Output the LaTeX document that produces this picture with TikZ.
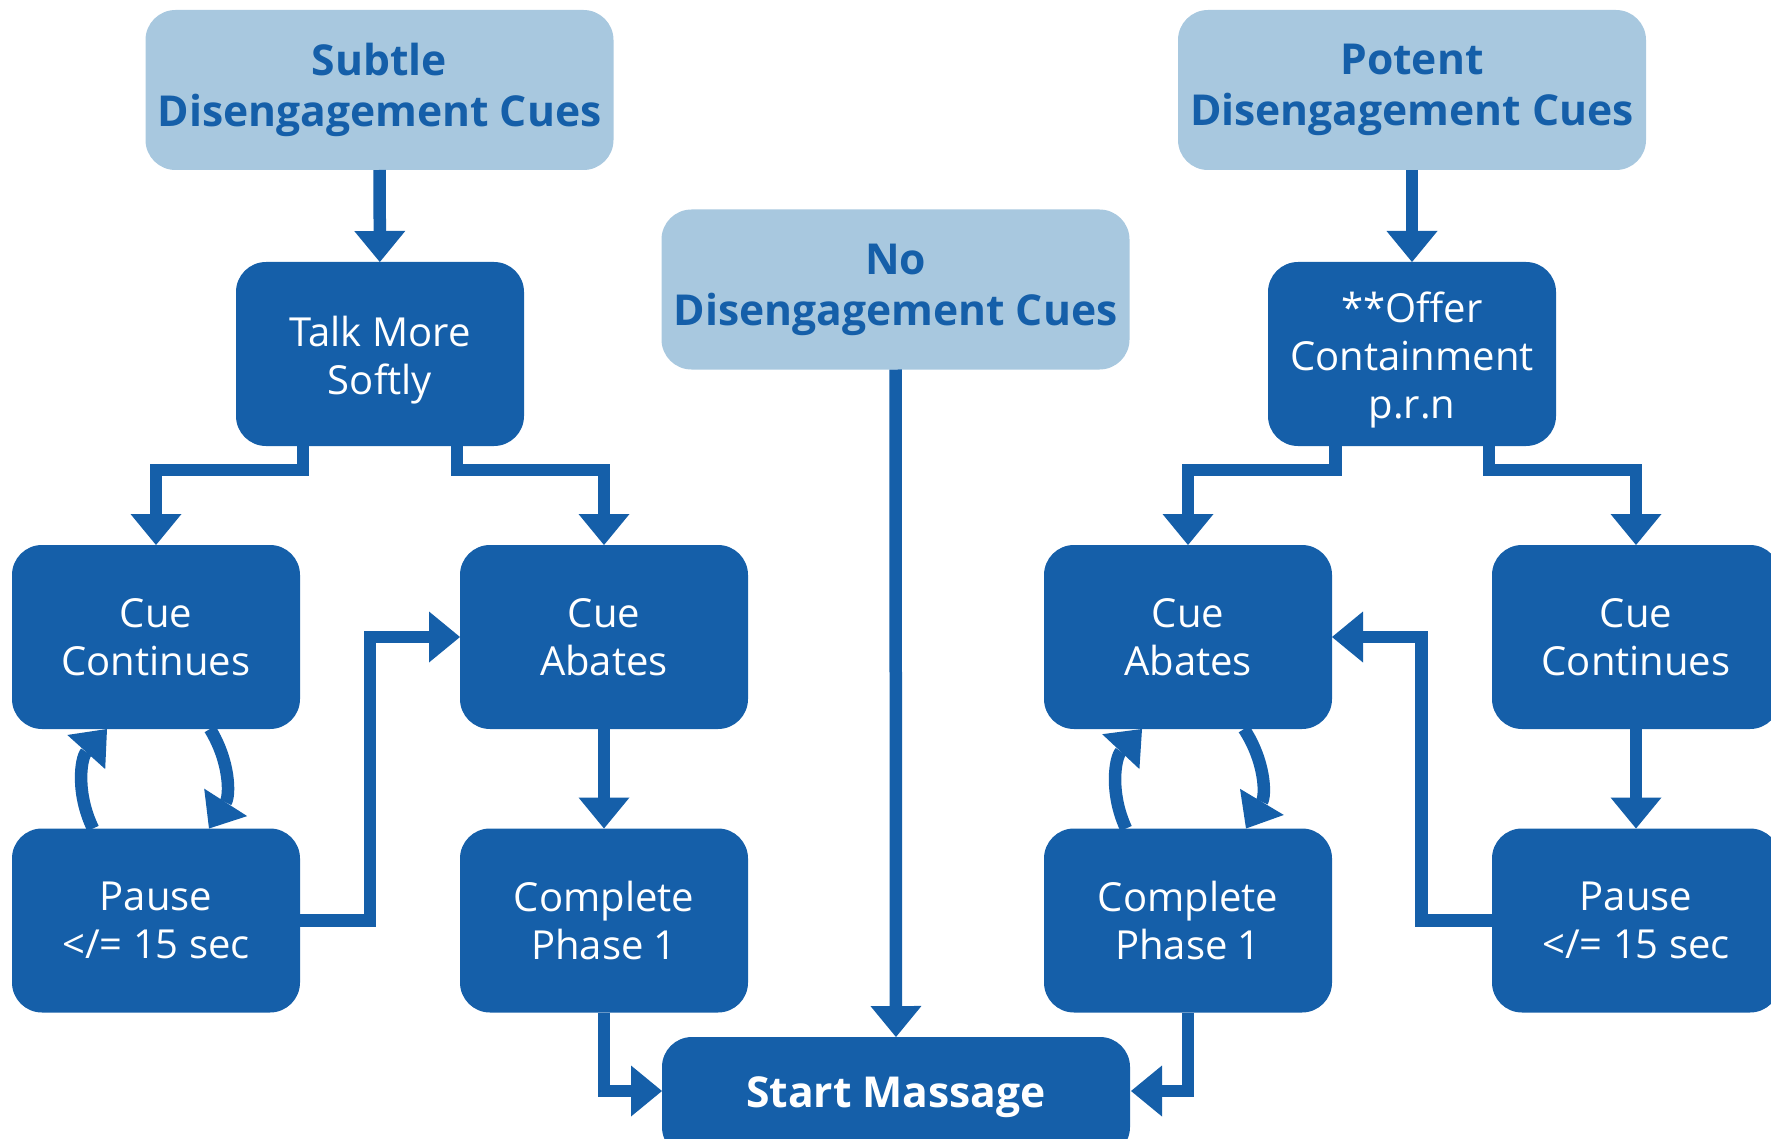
\documentclass[tikz,border=0pt]{standalone}
\usepackage{fontspec}
\setmainfont{Open Sans}
\usetikzlibrary{arrows.meta}
\definecolor{lightblue}{HTML}{A8C8DF}
\definecolor{darkblue}{HTML}{155FA9}
\begin{document}
\begin{tikzpicture}[x=0.5pt,y=-0.5pt,
  lbox/.style={fill=lightblue, rounded corners=15pt, text=darkblue,
    font=\fontsize{21.3}{25.5}\selectfont\bfseries, align=center,
    minimum width=234pt, minimum height=80pt, inner sep=0pt, outer sep=0pt},
  dbox/.style={fill=darkblue, rounded corners=15pt, text=white,
    font=\fontsize{20}{24}\selectfont, align=center,
    minimum width=144pt, minimum height=92pt, inner sep=0pt, outer sep=0pt},
  dtext/.style={text=white, font=\fontsize{20}{24}\selectfont, align=center,
    inner sep=0pt, outer sep=0pt},
  conn/.style={draw=darkblue, line width=6.25pt, line join=miter,
    -{Triangle[width=25.5pt 0 0, length=15.5pt 0 0, line width=0pt 0 0]}}]
\useasboundingbox (0,0) rectangle (1771,1139);
\clip (0,0) rectangle (1771,1139);
% top level
\node[lbox] (subtle) at (379.5,90) {Subtle\\Disengagement Cues};
\node[lbox] (potent) at (1412,90) {Potent\\Disengagement Cues};
\node[lbox] (nocue) at (895.5,289.5) {No\\Disengagement Cues};
% second level
\node[dbox] (talk) at (380,354) {};
\node[dtext] (talkT) at (380,360) {Talk More\\Softly};
\node[dbox] (offer) at (1412,354) {};
\node[dtext] (offerT) at (1412,360) {**Offer\\Containment\\p.r.n};
% third level
\node[dbox] (ccL) at (156,637) {Cue\\Continues};
\node[dbox] (caL) at (604,637) {Cue\\Abates};
\node[dbox] (caR) at (1188,637) {Cue\\Abates};
\node[dbox] (ccR) at (1636,637) {Cue\\Continues};
% fourth level
\node[dbox] (pauseL) at (156,920.5) {Pause\\</= 15 sec};
\node[dbox] (cpL) at (604,920.5) {Complete\\Phase 1};
\node[dbox] (cpR) at (1188,920.5) {Complete\\Phase 1};
\node[dbox] (pauseR) at (1636,920.5) {Pause\\</= 15 sec};
% start
\node[dbox, minimum width=234pt, minimum height=60pt,
  font=\fontsize{21.3}{25.5}\selectfont\bfseries] (start) at (896,1097) {Start Massage};
% bend coordinates
\coordinate (b1) at (303,470);
\coordinate (b2) at (457,470);
\coordinate (b3) at (1335.5,470);
\coordinate (b4) at (1489,470);
\coordinate (v1) at (370,780);
\coordinate (v2) at (1421.5,780);
\coordinate (sl) at (662,1091);
\coordinate (sr) at (1131,1091);
% connectors
\draw[conn] (subtle) -- (talk);
\draw[conn] (potent) -- (offer);
\draw[conn] (nocue) -- (start);
\draw[conn] (talk.south -| b1) -- (b1) -| (ccL.north);
\draw[conn] (talk.south -| b2) -- (b2) -| (caL.north);
\draw[conn] (offer.south -| b3) -- (b3) -| (caR.north);
\draw[conn] (offer.south -| b4) -- (b4) -| (ccR.north);
\draw[conn] (caL) -- (cpL);
\draw[conn] (ccR) -- (pauseR);
\draw[conn] (pauseL.east) -| (v1) |- (caL.west);
\draw[conn] (pauseR.west) -| (v2) |- (caR.east);
\draw[conn] (cpL.south) |- (sl);
\draw[conn] (cpR.south) |- (sr);
% loops
\draw[conn] ([xshift=-31.5pt]pauseL.north) to[bend left=34] ([xshift=-24.5pt]ccL.south);
\draw[conn] ([xshift=27pt]ccL.south) to[bend left=32] ([xshift=26.5pt]pauseL.north);
\draw[conn] ([xshift=-31pt]cpR.north) to[bend left=34] ([xshift=-23pt]caR.south);
\draw[conn] ([xshift=28pt]caR.south) to[bend left=32] ([xshift=29pt]cpR.north);
\end{tikzpicture}
\end{document}
